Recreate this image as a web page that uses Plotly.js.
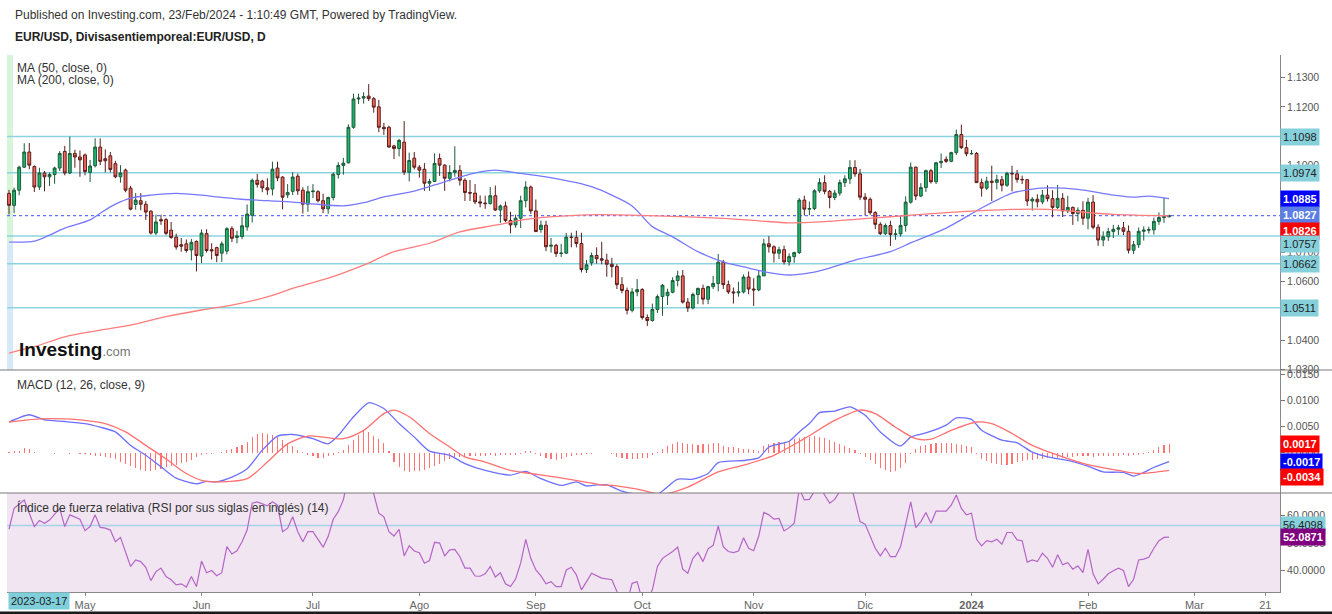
<!DOCTYPE html>
<html><head><meta charset="utf-8">
<script src="https://cdn.plot.ly/plotly-3.0.1.min.js"></script>
<style>html,body{margin:0;padding:0;background:#fff;}#chart{width:1332px;height:614px;}</style>
</head><body><div id="chart"></div>
<script>
// ---------- DATA ----------
const startDate = '2023-04-10';
const endDate = '2024-02-23';

const opens = [
1.0903,1.0862,1.0914,1.0993,1.1045,1.0995,1.0925,1.0973,1.0960,1.0968,
1.0990,1.1047,1.0973,1.1040,1.1028,1.1035,1.0975,1.0998,1.1062,1.1022,
1.1032,1.1005,1.0960,1.0983,1.0921,1.0865,1.0878,1.0866,1.0842,1.0767,
1.0813,1.0813,1.0777,1.0753,1.0727,1.0730,1.0709,1.0738,1.0688,1.0765,
1.0710,1.0717,1.0698,1.0705,1.0782,1.0752,1.0755,1.0788,1.0828,1.0948,
1.0945,1.0922,1.0918,1.0990,1.0959,1.0898,1.0910,1.0962,1.0914,1.0866,
1.0909,1.0909,1.0878,1.0850,1.0889,1.0968,1.0999,1.1008,1.1130,1.1227,
1.1230,1.1237,1.1228,1.1200,1.1130,1.1130,1.1066,1.1057,1.1079,1.0976,
1.1024,1.0993,1.0986,1.0938,1.0944,1.1023,1.1000,1.0955,1.0975,1.0982,
1.0948,1.0906,1.0904,1.0874,1.0870,1.0868,1.0895,1.0846,1.0860,1.0810,
1.0795,1.0818,1.0878,1.0925,1.0843,1.0779,1.0794,1.0722,1.0725,1.0697,
1.0698,1.0753,1.0752,1.0731,1.0642,1.0665,1.0690,1.0679,1.0674,1.0660,
1.0652,1.0590,1.0570,1.0502,1.0565,1.0573,1.0477,1.0467,1.0505,1.0549,
1.0552,1.0564,1.0604,1.0620,1.0530,1.0510,1.0556,1.0577,1.0540,1.0583,
1.0594,1.0667,1.0590,1.0565,1.0562,1.0565,1.0616,1.0575,1.0572,1.0620,
1.0730,1.0720,1.0698,1.0710,1.0668,1.0686,1.0700,1.0880,1.0849,1.0851,
1.0912,1.0940,1.0910,1.0889,1.0904,1.0940,1.0953,1.0992,1.0970,1.0890,
1.0883,1.0837,1.0797,1.0765,1.0793,1.0762,1.0764,1.0793,1.0873,1.0993,
1.0894,1.0923,1.0981,1.0943,1.1008,1.1020,1.1013,1.1043,1.1105,1.1060,
1.1039,1.1040,1.0940,1.0921,1.0945,1.0941,1.0950,1.0931,1.0972,1.0970,
1.0951,1.0950,1.0877,1.0883,1.0874,1.0897,1.0885,1.0855,1.0886,1.0843,
1.0855,1.0834,1.0845,1.0818,1.0873,1.0787,1.0743,1.0754,1.0772,1.0780,
1.0785,1.0773,1.0708,1.0727,1.0773,1.0777,1.0778,1.0807,1.0820,1.0823];

const highs = [
1.0915,1.0923,1.0998,1.1075,1.1076,1.0999,1.0991,1.0980,1.0975,1.0995,
1.1048,1.1066,1.1098,1.1053,1.1050,1.1040,1.1018,1.1092,1.1092,1.1054,
1.1045,1.1015,1.1000,1.0988,1.0929,1.0904,1.0904,1.0877,1.0845,1.0830,
1.0830,1.0818,1.0805,1.0765,1.0750,1.0745,1.0747,1.0742,1.0779,1.0780,
1.0732,1.0720,1.0738,1.0787,1.0790,1.0775,1.0823,1.0865,1.0954,1.0970,
1.0950,1.0955,1.1012,1.1012,1.0962,1.0935,1.0976,1.0971,1.0924,1.0929,
1.0935,1.0914,1.0902,1.0892,1.0975,1.1010,1.1025,1.1140,1.1245,1.1245,
1.1250,1.1278,1.1234,1.1224,1.1145,1.1135,1.1070,1.1090,1.1151,1.1043,
1.1045,1.1000,1.1007,1.0953,1.1040,1.1040,1.1003,1.1000,1.1065,1.1000,
1.0955,1.0949,1.0935,1.0896,1.0895,1.0925,1.0930,1.0865,1.0875,1.0840,
1.0830,1.0895,1.0945,1.0930,1.0882,1.0810,1.0809,1.0750,1.0730,1.0730,
1.0767,1.0768,1.0775,1.0768,1.0675,1.0700,1.0718,1.0737,1.0696,1.0682,
1.0660,1.0616,1.0580,1.0578,1.0609,1.0578,1.0488,1.0525,1.0556,1.0592,
1.0576,1.0615,1.0638,1.0640,1.0544,1.0563,1.0580,1.0590,1.0586,1.0620,
1.0695,1.0675,1.0604,1.0580,1.0600,1.0625,1.0635,1.0612,1.0640,1.0747,
1.0756,1.0725,1.0720,1.0724,1.0697,1.0703,1.0887,1.0895,1.0875,1.0917,
1.0955,1.0965,1.0915,1.0915,1.0950,1.0965,1.1017,1.1017,1.0987,1.0904,
1.0889,1.0842,1.0804,1.0800,1.0809,1.0780,1.0827,1.0893,1.1009,1.0995,
1.0938,1.0985,1.0987,1.1011,1.1040,1.1030,1.1046,1.1122,1.1139,1.1087,
1.1052,1.1045,1.0954,1.0960,1.0998,1.0967,1.0963,1.0977,1.0998,1.0983,
1.0964,1.0951,1.0890,1.0900,1.0915,1.0931,1.0914,1.0932,1.0904,1.0895,
1.0858,1.0855,1.0876,1.0888,1.0897,1.0797,1.0773,1.0785,1.0795,1.0795,
1.0805,1.0793,1.0740,1.0786,1.0790,1.0789,1.0820,1.0838,1.0888,1.0830];

const lows = [
1.0831,1.0836,1.0897,1.0991,1.0986,1.0908,1.0915,1.0910,1.0928,1.0936,
1.0980,1.0965,1.0969,1.0991,1.0960,1.0965,1.0942,1.0992,1.1000,1.0975,
1.0975,1.0955,1.0940,1.0907,1.0845,1.0847,1.0845,1.0812,1.0762,1.0760,
1.0795,1.0760,1.0747,1.0710,1.0703,1.0700,1.0673,1.0635,1.0664,1.0700,
1.0676,1.0667,1.0668,1.0694,1.0736,1.0732,1.0746,1.0775,1.0803,1.0923,
1.0907,1.0898,1.0896,1.0945,1.0848,1.0887,1.0897,1.0898,1.0834,1.0840,
1.0887,1.0872,1.0835,1.0833,1.0879,1.0954,1.0967,1.1006,1.1125,1.1210,
1.1211,1.1220,1.1180,1.1113,1.1104,1.1060,1.1021,1.1030,1.0966,1.0944,
1.0985,1.0957,1.0912,1.0912,1.0942,1.0963,1.0912,1.0944,1.0960,1.0930,
1.0877,1.0877,1.0866,1.0855,1.0850,1.0865,1.0843,1.0802,1.0804,1.0766,
1.0785,1.0784,1.0855,1.0833,1.0771,1.0768,1.0705,1.0700,1.0685,1.0685,
1.0695,1.0718,1.0718,1.0632,1.0630,1.0655,1.0662,1.0660,1.0617,1.0615,
1.0575,1.0560,1.0488,1.0495,1.0550,1.0470,1.0448,1.0463,1.0493,1.0483,
1.0520,1.0560,1.0584,1.0525,1.0496,1.0505,1.0523,1.0522,1.0523,1.0575,
1.0567,1.0575,1.0558,1.0525,1.0549,1.0560,1.0557,1.0517,1.0567,1.0620,
1.0700,1.0666,1.0678,1.0659,1.0655,1.0665,1.0695,1.0827,1.0828,1.0845,
1.0905,1.0900,1.0852,1.0880,1.0895,1.0925,1.0935,1.0960,1.0880,1.0827,
1.0830,1.0780,1.0760,1.0760,1.0723,1.0744,1.0755,1.0772,1.0868,1.0880,
1.0890,1.0908,1.0937,1.0935,1.0990,1.1008,1.1010,1.1035,1.1055,1.1030,
1.1036,1.0940,1.0892,1.0915,1.0877,1.0917,1.0910,1.0925,1.0910,1.0940,
1.0935,1.0860,1.0844,1.0855,1.0866,1.0875,1.0821,1.0849,1.0822,1.0836,
1.0795,1.0807,1.0795,1.0780,1.0780,1.0723,1.0722,1.0740,1.0750,1.0760,
1.0760,1.0697,1.0695,1.0716,1.0741,1.0765,1.0762,1.0795,1.0802,1.0820];

const closes = [
1.0862,1.0914,1.0993,1.1045,1.1000,1.0925,1.0973,1.0960,1.0968,1.0990,
1.1040,1.0973,1.1040,1.1028,1.1018,1.0978,1.0997,1.1062,1.1013,1.1015,
1.0985,1.0960,1.0973,1.0914,1.0849,1.0880,1.0866,1.0839,1.0767,1.0805,
1.0809,1.0766,1.0752,1.0719,1.0722,1.0707,1.0735,1.0690,1.0767,1.0707,
1.0706,1.0690,1.0730,1.0782,1.0749,1.0757,1.0792,1.0832,1.0948,1.0934,
1.0922,1.0915,1.0986,1.0956,1.0890,1.0906,1.0959,1.0912,1.0866,1.0909,
1.0911,1.0878,1.0850,1.0889,1.0969,1.0999,1.1007,1.1130,1.1227,1.1230,
1.1235,1.1228,1.1199,1.1130,1.1125,1.1062,1.1057,1.1085,1.0976,1.1016,
1.0993,1.0983,1.0938,1.0944,1.1006,1.1000,1.0955,1.0975,1.0982,1.0948,
1.0906,1.0904,1.0874,1.0870,1.0868,1.0895,1.0846,1.0860,1.0810,1.0795,
1.0818,1.0878,1.0925,1.0843,1.0772,1.0794,1.0720,1.0725,1.0697,1.0698,
1.0753,1.0752,1.0731,1.0642,1.0658,1.0690,1.0679,1.0674,1.0660,1.0652,
1.0590,1.0570,1.0502,1.0565,1.0573,1.0477,1.0467,1.0505,1.0549,1.0588,
1.0564,1.0604,1.0620,1.0530,1.0510,1.0556,1.0577,1.0540,1.0583,1.0594,
1.0667,1.0590,1.0565,1.0562,1.0565,1.0616,1.0575,1.0572,1.0620,1.0730,
1.0720,1.0698,1.0710,1.0668,1.0686,1.0700,1.0880,1.0849,1.0851,1.0912,
1.0940,1.0910,1.0889,1.0904,1.0940,1.0953,1.0992,1.0970,1.0890,1.0883,
1.0837,1.0797,1.0765,1.0793,1.0762,1.0764,1.0793,1.0873,1.0993,1.0894,
1.0923,1.0981,1.0943,1.1008,1.1013,1.1013,1.1043,1.1105,1.1060,1.1039,
1.1040,1.0940,1.0921,1.0945,1.0941,1.0950,1.0931,1.0972,1.0970,1.0951,
1.0950,1.0877,1.0883,1.0874,1.0897,1.0885,1.0855,1.0886,1.0843,1.0855,
1.0834,1.0845,1.0818,1.0873,1.0787,1.0743,1.0754,1.0772,1.0780,1.0785,
1.0773,1.0708,1.0727,1.0773,1.0777,1.0778,1.0807,1.0820,1.0823,1.0827];

// moving averages, read at sampled bars (bar number counted from startDate)
const ma50Bars = [0,5,8,11,16,18,21,24,28,33,38,41,46,51,56,60,66,70,74,80,84,89,93,96,101,106,112,115,119,123,127,131,136,141,146,150,154,158,162,167,174,178,185,192,198,202,205,211,218,222,225,229];
const ma50Vals = [1.0736,1.0739,1.0760,1.0784,1.0812,1.0835,1.0866,1.0887,1.0897,1.0903,1.0897,1.0891,1.0883,1.0878,1.0873,1.0867,1.0860,1.0871,1.0891,1.0911,1.0932,1.0959,1.0977,1.0983,1.0972,1.0960,1.0940,1.0926,1.0897,1.0860,1.0789,1.0754,1.0703,1.0668,1.0647,1.0631,1.0623,1.0630,1.0647,1.0674,1.0703,1.0733,1.0784,1.0853,1.0904,1.0918,1.0922,1.0917,1.0897,1.0890,1.0894,1.0885];
const ma200Bars = [0,5,11,18,24,31,38,44,51,56,63,70,76,83,89,96,102,109,116,128,141,148,154,161,167,174,185,192,198,205,211,218,229];
const ma200Vals = [1.0355,1.0377,1.0411,1.0434,1.0451,1.0480,1.0503,1.0520,1.0548,1.0577,1.0612,1.0657,1.0703,1.0732,1.0771,1.0794,1.0814,1.0825,1.0830,1.0826,1.0817,1.0809,1.0802,1.0806,1.0814,1.0823,1.0837,1.0844,1.0848,1.0848,1.0840,1.0831,1.0826];

// MACD (12, 26, close, 9)
const macdBars = [0,4,7,11,15,18,21,24,27,30,33,37,39,41,44,47,50,53,56,60,63,65,68,71,74,77,80,83,87,90,94,99,102,105,109,112,114,116,118,121,124,128,132,135,138,140,145,148,150,154,156,158,160,163,166,169,172,176,178,181,185,187,190,192,196,199,202,205,210,213,216,220,222,224,226,229];
const macdVals = [0.0059,0.0073,0.0063,0.0060,0.0056,0.0049,0.0040,0.0014,-0.0005,-0.0027,-0.0049,-0.0060,-0.0055,-0.0056,-0.0047,-0.0031,0.0005,0.0032,0.0035,0.0027,0.0017,0.0033,0.0069,0.0096,0.0085,0.0056,0.0030,0.0003,-0.0005,-0.0021,-0.0034,-0.0043,-0.0036,-0.0050,-0.0063,-0.0056,-0.0064,-0.0062,-0.0062,-0.0074,-0.0080,-0.0080,-0.0051,-0.0051,-0.0040,-0.0019,-0.0015,-0.0010,0.0011,0.0022,0.0040,0.0056,0.0077,0.0080,0.0088,0.0072,0.0040,0.0013,0.0030,0.0038,0.0053,0.0067,0.0064,0.0043,0.0024,0.0019,0.0001,-0.0008,-0.0017,-0.0026,-0.0037,-0.0038,-0.0045,-0.0038,-0.0028,-0.0017];
const signalBars = [0,6,11,15,19,23,27,31,35,38,42,47,51,55,59,62,66,70,74,76,79,83,87,90,94,99,103,108,113,117,119,124,129,134,140,145,151,157,163,168,171,175,179,182,186,191,194,198,202,208,213,219,223,229];
const signalVals = [0.0059,0.0065,0.0065,0.0062,0.0056,0.0040,0.0014,-0.0012,-0.0040,-0.0053,-0.0056,-0.0050,-0.0018,0.0017,0.0032,0.0030,0.0027,0.0043,0.0075,0.0082,0.0069,0.0037,0.0011,-0.0008,-0.0018,-0.0034,-0.0040,-0.0047,-0.0055,-0.0062,-0.0063,-0.0070,-0.0080,-0.0066,-0.0037,-0.0024,-0.0005,0.0027,0.0062,0.0082,0.0075,0.0049,0.0027,0.0026,0.0043,0.0059,0.0056,0.0037,0.0014,-0.0008,-0.0023,-0.0034,-0.0040,-0.0034];
const histVals = [
0.0002,0.0003,0.0003,0.0009,0.0008,
0.0001,0.0000,-0.0001,-0.0001,-0.0002,-0.0001,-0.0001,-0.0002,-0.0001,-0.0002,-0.0003,
-0.0005,-0.0006,-0.0007,-0.0009,-0.0011,-0.0013,
-0.0018,-0.0022,-0.0026,-0.0030,-0.0034,-0.0036,-0.0036,-0.0034,
-0.0031,-0.0028,-0.0026,-0.0023,-0.0020,-0.0017,-0.0014,
-0.0008,-0.0004,-0.0003,-0.0002,0.0000,0.0002,
0.0006,0.0008,0.0011,0.0015,0.0020,
0.0030,0.0036,0.0037,0.0035,0.0034,
0.0030,0.0024,0.0018,0.0012,0.0006,0.0002,
-0.0004,-0.0007,-0.0010,-0.0010,-0.0007,-0.0004,
0.0002,0.0006,
0.0015,0.0025,0.0034,0.0041,0.0039,
0.0033,0.0026,0.0018,
0.0003,
-0.0018,-0.0028,-0.0036,
-0.0037,-0.0036,-0.0035,-0.0033,-0.0030,
-0.0026,-0.0021,-0.0016,-0.0012,
-0.0009,-0.0008,-0.0008,-0.0007,-0.0007,-0.0006,-0.0006,-0.0005,-0.0006,-0.0005,-0.0005,-0.0004,-0.0004,-0.0002,
0.0003,0.0003,
-0.0002,-0.0006,
-0.0010,-0.0013,-0.0015,-0.0012,
-0.0008,-0.0006,-0.0005,-0.0004,-0.0003,-0.0002,-0.0001,
0.0000,-0.0001,-0.0003,
-0.0009,-0.0010,-0.0012,-0.0013,-0.0012,-0.0011,-0.0010,-0.0005,
0.0001,
0.0008,0.0013,0.0017,0.0020,0.0019,
0.0017,0.0016,0.0015,0.0016,0.0017,0.0019,0.0019,
0.0013,0.0011,0.0010,0.0009,0.0008,0.0007,0.0005,0.0004,
0.0012,0.0017,0.0019,0.0020,0.0021,0.0022,
0.0026,0.0028,0.0030,0.0031,0.0032,0.0030,0.0028,
0.0024,0.0020,0.0016,0.0012,0.0009,0.0005,
-0.0002,
-0.0008,-0.0015,-0.0022,-0.0029,-0.0034,-0.0037,-0.0035,-0.0030,-0.0020,
-0.0002,
0.0008,0.0012,0.0015,0.0017,0.0018,0.0019,0.0018,0.0018,0.0017,0.0015,0.0013,0.0010,
-0.0002,
-0.0012,-0.0016,-0.0019,-0.0021,-0.0023,-0.0023,-0.0022,
-0.0018,-0.0016,-0.0015,-0.0014,-0.0013,-0.0012,-0.0011,-0.0011,-0.0010,-0.0010,-0.0009,
-0.0008,-0.0007,-0.0007,-0.0006,-0.0008,-0.0007,-0.0006,-0.0006,-0.0007,-0.0006,-0.0005,-0.0006,-0.0005,-0.0004,-0.0002,
0.0002,0.0006,0.0010,0.0014,0.0017];

// RSI (14)
const rsiBars = [0,1,3,4,5,6,7,8,10,11,12,14,15,16,17,18,19,20,21,22,23,24,25,26,27,28,29,30,31,32,33,34,35,36,37,38,39,40,41,42,43,44,45,46,47,48,49,51,52,53,54,55,56,57,58,59,60,61,62,63,64,65,66,67,68,69,70,71,72,73,74,75,76,77,78,79,80,81,82,83,84,85,86,87,88,89,90,91,92,93,94,95,96,97,98,99,100,101,102,103,104,105,106,107,108,109,110,111,112,113,114,115,117,118,119,120,121,122,123,124,125,126,127,128,129,131,132,133,134,135,136,137,138,139,140,141,142,143,144,145,146,147,148,149,150,151,152,153,154,155,156,157,158,159,160,161,162,163,164,165,166,167,168,169,170,171,172,173,174,175,176,177,178,179,180,181,182,183,184,185,186,187,188,189,190,191,192,193,194,195,196,197,198,199,200,201,202,203,204,205,206,207,208,209,210,211,212,213,214,215,216,217,218,219,220,221,222,223,224,225,226,227,228,229];
const rsiVals = [55.0,62.7,65.8,60.9,56.0,58.2,57.2,58.4,62.7,56.0,60.3,58.7,54.5,56.0,60.3,55.7,55.4,54.7,50.4,52.0,46.2,41.3,43.7,43.1,41.0,36.1,39.4,40.7,37.6,36.4,34.5,34.9,33.7,37.6,33.9,43.3,39.0,39.8,37.9,39.0,48.6,45.9,47.1,50.4,54.7,64.6,65.1,63.6,65.1,63.9,54.1,55.4,59.6,54.1,50.4,54.1,54.1,51.1,48.4,52.3,58.7,61.5,65.8,75,80,82,80,76,68,60.9,59.6,54.1,52.5,55.0,45.2,48.9,47.0,46.4,42.5,43.5,50.2,49.9,45.2,47.4,47.6,44.9,40.7,40.7,37.8,37.7,38.6,41.3,37.4,39.0,34.9,33.9,36.7,42.5,51.3,44.3,40.0,37.8,34.9,35.7,33.9,33.9,40.0,41.0,38.2,32.7,35.7,38.8,37.0,36.6,36.4,32.1,29,28,35.1,35.7,29,29,32.7,41.3,44.3,46.8,48.4,40.3,38.8,44.3,46.4,43.1,47.8,49.1,56.2,48.6,46.8,46.4,47.0,51.9,48.0,47.1,52.5,61.2,60.3,58.7,59.0,54.4,55.6,57.2,70,65.8,66.0,69,71,67.6,64.6,66.0,69,72,73,65.8,57.8,56.9,52.3,48.0,45.2,48.0,44.9,44.9,48.6,57.2,65.1,55.6,57.8,61.2,57.2,61.7,61.7,61.7,63.9,67.6,62.7,60.3,60.9,51.3,48.9,50.8,50.4,51.3,49.5,53.8,53.8,51.1,50.8,42.9,43.7,43.1,46.2,44.3,41.0,45.6,41.9,42.7,40.3,41.5,39.0,47.6,38.6,34.9,36.6,38.6,39.7,40.7,39.8,33.9,36.6,43.7,44.0,44.7,48.0,50.8,52.0,52.0871];

const levels = [1.1098, 1.0974, 1.0757, 1.0662, 1.0511];
const lastPrice = 1.0827, ma50Last = 1.0885, ma200Last = 1.0826;
const histLast = 0.0017, macdLast = -0.0017, signalLast = -0.0034;
const rsiLevel = 56.4098, rsiLast = 52.0871;
// price ticks left visible (the others sit fully under the value boxes)
const priceTicks = [1.03,1.04,1.06,1.07,1.10,1.12,1.13];
const macdTicks = [0,0.005,0.01,0.015];
const rsiTicks = [40,50,60];
const tickDays = ['2023-05-01','2023-06-01','2023-07-03','2023-08-01','2023-09-01','2023-10-02','2023-11-01','2023-12-01','2024-01-01','2024-02-01','2024-03-01','2024-03-21'];
const tickLabels = ['May','Jun','Jul','Ago','Sep','Oct','Nov','Dic','<b>2024</b>','Feb','Mar','21'];
const cursorDate = '2023-03-17';

// ---------- BUILD ----------
const dates = [];
for (let t = Date.parse(startDate + 'T12:00:00Z'); t <= Date.parse(endDate + 'T12:00:00Z'); t += 86400000) {
  const d = new Date(t), w = d.getUTCDay();
  if (w !== 0 && w !== 6) dates.push(d.toISOString().slice(0, 10) + ' 12:00');
}
const at = bars => bars.map(i => dates[i]);

const FONT = 'Liberation Sans, Arial, sans-serif';
const L = 7, R = 1280, T = 55, B = 592, W = R - L, H = B - T;
const PX = x => (x - L) / W, PY = y => (B - y) / H;

const traces = [
  {type: 'candlestick', x: dates, open: opens, high: highs, low: lows, close: closes,
   xaxis: 'x', yaxis: 'y', hoverinfo: 'skip', whiskerwidth: 0,
   increasing: {line: {color: '#1d5a39', width: 1}, fillcolor: '#1db36b'},
   decreasing: {line: {color: '#5a1d1a', width: 1}, fillcolor: '#f2665c'}},
  {type: 'scatter', mode: 'lines', x: at(ma50Bars), y: ma50Vals, xaxis: 'x', yaxis: 'y',
   line: {color: '#7878ff', width: 1.3, shape: 'spline', smoothing: 0.8}, hoverinfo: 'skip'},
  {type: 'scatter', mode: 'lines', x: at(ma200Bars), y: ma200Vals, xaxis: 'x', yaxis: 'y',
   line: {color: '#ff7c7c', width: 1.3, shape: 'spline', smoothing: 0.8}, hoverinfo: 'skip'},
  {type: 'bar', x: dates.slice(0, histVals.length), y: histVals, xaxis: 'x', yaxis: 'y2',
   width: 86400000 * 0.22, marker: {color: '#ff7373', line: {width: 0}}, hoverinfo: 'skip'},
  {type: 'scatter', mode: 'lines', x: at(macdBars), y: macdVals, xaxis: 'x', yaxis: 'y2',
   line: {color: '#6e6eff', width: 1.3, shape: 'spline', smoothing: 0.6}, hoverinfo: 'skip'},
  {type: 'scatter', mode: 'lines', x: at(signalBars), y: signalVals, xaxis: 'x', yaxis: 'y2',
   line: {color: '#ff7070', width: 1.3, shape: 'spline', smoothing: 0.8}, hoverinfo: 'skip'},
  {type: 'scatter', mode: 'lines', x: at(rsiBars), y: rsiVals, xaxis: 'x', yaxis: 'y3',
   line: {color: '#b565c6', width: 1.2}, hoverinfo: 'skip'}
];

const shapes = [];
shapes.push({type: 'rect', xref: 'paper', yref: 'y3 domain', x0: 0, x1: 1, y0: 0, y1: 1,
  fillcolor: '#f1e5f1', line: {width: 0}, layer: 'below'});
shapes.push({type: 'rect', xref: 'paper', yref: 'y', x0: 0, x1: PX(13), y0: 1.0730, y1: 1.13779,
  fillcolor: '#d7f5d8', line: {width: 0}, layer: 'below'});
shapes.push({type: 'rect', xref: 'paper', yref: 'y', x0: 0, x1: PX(13), y0: 1.02971, y1: 1.0730,
  fillcolor: '#d5eaf6', line: {width: 0}, layer: 'below'});
levels.forEach(v => shapes.push({type: 'line', xref: 'paper', yref: 'y', x0: 0, x1: 1, y0: v, y1: v,
  line: {color: '#8ad3df', width: 1.5}, layer: 'below'}));
shapes.push({type: 'line', xref: 'paper', yref: 'y', x0: 0, x1: 1, y0: lastPrice, y1: lastPrice,
  line: {color: '#5f6fff', width: 1.3, dash: 'dot'}, layer: 'below'});
shapes.push({type: 'line', xref: 'paper', yref: 'y3', x0: 0, x1: 1, y0: rsiLevel, y1: rsiLevel,
  line: {color: '#a6d2ea', width: 1.5}, layer: 'below'});
[370, 493].forEach(py => shapes.push({type: 'line', xref: 'paper', yref: 'paper',
  x0: PX(0), x1: PX(1332), y0: PY(py), y1: PY(py), line: {color: '#7a7a7a', width: 1}}));
shapes.push({type: 'rect', xref: 'paper', yref: 'paper', x0: PX(0), x1: PX(1332), y0: PY(614), y1: PY(611.5),
  fillcolor: '#1a1a1a', line: {width: 0}});

function txt(s, x, y, size, color, extra) {
  return Object.assign({xref: 'paper', yref: 'paper', x: PX(x), y: PY(y), xanchor: 'left', yanchor: 'middle',
    text: s, showarrow: false, font: {family: FONT, size: size, color: color}}, extra || {});
}
function lab(v, yref, bg, color, bold, dec, yshift) {
  const s = v.toFixed(dec);
  return {xref: 'paper', x: 1, xanchor: 'left', yref: yref, y: v, yanchor: 'middle',
    text: bold ? '<b>' + s + '</b>' : s, showarrow: false, bgcolor: bg, borderpad: 2,
    font: {family: FONT, size: 11, color: color}, yshift: yshift || 0};
}
const annotations = [
  txt('Published on Investing.com, 23/Feb/2024 - 1:10:49 GMT, Powered by TradingView.', 13, 15, 12, '#333'),
  txt('<b>EUR/USD, Divisasentiemporeal:EUR/USD, D</b>', 13, 37, 12, '#222'),
  txt('MA (50, close, 0)', 15, 68, 12, '#333'),
  txt('MA (200, close, 0)', 15, 80, 12, '#333'),
  txt('MACD (12, 26, close, 9)', 15, 385, 12, '#333'),
  txt('Índice de fuerza relativa (RSI por sus siglas en inglés) (14)', 15, 508, 12, '#333'),
  txt('<b>Investing</b><span style="font-size:13px;color:#777">.com</span>', 17, 350, 19, '#111'),
  txt(cursorDate, 8, 601, 11, '#222', {bgcolor: '#7fcfdb', borderpad: 2}),
  lab(levels[0], 'y', '#86d0dc', '#222', false, 4),
  lab(levels[1], 'y', '#86d0dc', '#222', false, 4),
  lab(ma50Last, 'y', '#0000ff', '#fff', true, 4),
  lab(lastPrice, 'y', '#5a7ee6', '#fff', true, 4, 1),
  lab(ma200Last, 'y', '#ff0000', '#fff', true, 4, -15),
  lab(levels[2], 'y', '#86d0dc', '#222', false, 4, -8),
  lab(levels[3], 'y', '#86d0dc', '#222', false, 4),
  lab(levels[4], 'y', '#86d0dc', '#222', false, 4),
  lab(histLast, 'y2', '#ff0000', '#fff', true, 4),
  lab(macdLast, 'y2', '#0000ff', '#fff', true, 4),
  lab(signalLast, 'y2', '#ff0000', '#fff', true, 4, -7),
  lab(rsiLevel, 'y3', '#86d0dc', '#222', false, 4),
  lab(rsiLast, 'y3', '#800080', '#fff', true, 4)
];

const yCommon = {side: 'right', anchor: 'x', showgrid: false, zeroline: false, showline: true,
  linecolor: '#888', linewidth: 1, ticks: 'outside', ticklen: 4, tickcolor: '#777',
  tickfont: {family: FONT, size: 10.5, color: '#555'}, fixedrange: true};

const layout = {
  width: 1332, height: 614, margin: {l: L, r: 1332 - R, t: T, b: 614 - B, pad: 0},
  paper_bgcolor: '#ffffff', plot_bgcolor: 'rgba(0,0,0,0)', showlegend: false,
  hovermode: false, dragmode: false, boxgap: 0.2, bargap: 0,
  xaxis: {type: 'date', range: ['2023-04-10 02:24', '2024-03-26 09:36'],
    rangebreaks: [{bounds: ['sat', 'mon']}], rangeslider: {visible: false},
    anchor: 'y3', tickvals: tickDays.map(d => d + ' 12:00'), ticktext: tickLabels,
    ticks: 'outside', ticklen: 3, tickcolor: '#888', showline: true, linecolor: '#888',
    showgrid: false, zeroline: false, tickfont: {family: FONT, size: 11, color: '#666'}, fixedrange: true},
  yaxis: Object.assign({}, yCommon, {domain: [222 / 537, 1], range: [1.02971, 1.13779],
    tickvals: priceTicks, tickformat: '.4f'}),
  yaxis2: Object.assign({}, yCommon, {domain: [99 / 537, 222 / 537], range: [-0.00775, 0.0159],
    tickvals: macdTicks, tickformat: '.4f'}),
  yaxis3: Object.assign({}, yCommon, {domain: [0, 99 / 537], range: [31.9, 68.35],
    tickvals: rsiTicks, tickformat: '.4f'}),
  shapes: shapes, annotations: annotations
};

Plotly.newPlot('chart', traces, layout, {staticPlot: true, displayModeBar: false});
</script></body></html>
